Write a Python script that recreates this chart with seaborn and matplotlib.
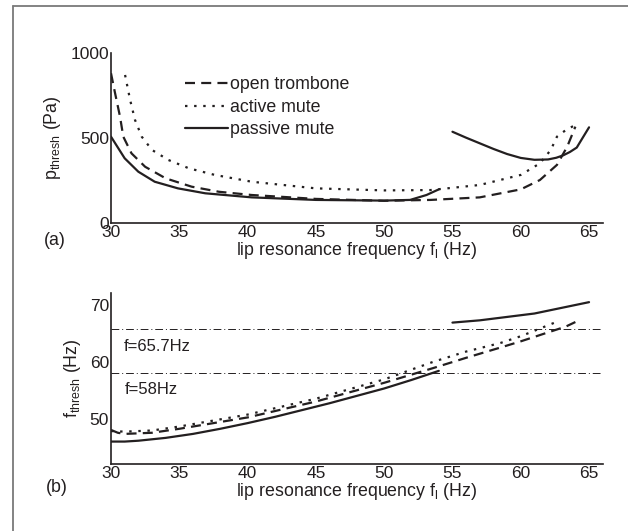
import numpy as np
import pandas as pd
import matplotlib
matplotlib.use("Agg")
import matplotlib.pyplot as plt
import seaborn as sns
from matplotlib.lines import Line2D

# ---------------- data ----------------
# (a) threshold pressure
open_p_x = [30, 30.3, 30.66, 30.9, 31.5, 32.5, 34, 35.9, 37.9, 40.3, 45, 50, 53.4, 57, 60, 61.4, 62.65, 63.4, 64]
open_p_y = [879, 761, 624, 506, 408, 329, 261, 212, 182, 163, 140, 129, 134, 149, 196, 251, 340, 447, 565]

active_p_x = [31.03, 31.4, 31.76, 32.25, 33, 34.2, 35.7, 37.6, 40.3, 45, 50, 53.4, 57, 60, 61.4, 62.2, 62.65, 63.3, 64]
active_p_y = [869, 722, 604, 506, 428, 369, 320, 281, 241, 202, 190, 192, 222, 281, 349, 428, 506, 545, 575]

passive_p_x1 = [30, 31, 32, 33.2, 34.9, 36.9, 40.3, 45, 50, 51.9, 53.1, 54]
passive_p_y1 = [506, 379, 300, 241, 202, 173, 149, 134, 130, 134, 163, 196]
passive_p_x2 = [55, 56, 57, 58, 59, 60, 61, 62, 62.6, 63.1, 63.6, 64.1, 64.5, 65]
passive_p_y2 = [535, 500, 467, 434, 404, 381, 370, 372, 382, 396, 416, 442, 495, 561]

# (b) threshold frequency
open_f_x = [30, 30.5, 31, 33, 35, 40, 45, 50, 53.6, 56, 58.5, 60, 63.3, 64]
open_f_y = [48.0, 47.5, 47.3, 47.5, 48.2, 50.2, 53.0, 56.3, 58.9, 60.7, 62.5, 63.6, 66.2, 67.0]

active_f_x = [30, 31, 33, 35, 40, 45, 50, 53.6, 56, 58.5, 60, 62.8]
active_f_y = [47.8, 47.7, 47.9, 48.6, 50.7, 53.5, 56.9, 60.0, 61.8, 63.3, 64.5, 67.2]

passive_f_x1 = [30, 31, 32, 34, 36, 38, 40, 42, 44, 46, 48, 50, 52, 54]
passive_f_y1 = [45.95, 45.95, 46.1, 46.6, 47.3, 48.2, 49.2, 50.3, 51.5, 52.7, 54.0, 55.3, 56.8, 58.4]
passive_f_x2 = [55, 57, 59, 61, 63, 65]
passive_f_y2 = [66.9, 67.3, 67.9, 68.5, 69.5, 70.5]

ref_levels = [65.7, 58]
ref_labels = ["f=65.7Hz", "f=58Hz"]

x_ticks = [30, 35, 40, 45, 50, 55, 60, 65]
p_ticks = [0, 500, 1000]
f_ticks = [50, 60, 70]

series_names = ["open trombone", "active mute", "passive mute"]

# ---------------- style ----------------
sns.set_theme(style="white")
INK = "#231f20"
plt.rcParams["font.family"] = ["Liberation Sans", "DejaVu Sans"]
plt.rcParams["mathtext.fontset"] = "custom"
plt.rcParams["mathtext.rm"] = "Liberation Sans"
plt.rcParams["mathtext.it"] = "Liberation Sans"
plt.rcParams["text.color"] = INK
plt.rcParams["axes.labelcolor"] = INK
plt.rcParams["xtick.color"] = INK
plt.rcParams["ytick.color"] = INK

FS = 12.8
W, H = 628, 531
fig = plt.figure(figsize=(W / 100, H / 100), dpi=100)

def frac(l, t, r, b):
    return [l / W, 1 - b / H, (r - l) / W, (b - t) / H]

ax1 = fig.add_axes(frac(111, 52.7, 602.7, 222.7))
ax2 = fig.add_axes(frac(111, 293.3, 602.7, 464))

DASH = (0, (4.5, 2.8))
DOT = (0, (1.1, 3.0))
LW = 1.6

def seg(x, y):
    return pd.DataFrame({"x": x, "y": y})

# panel (a)
sns.lineplot(data=seg(open_p_x, open_p_y), x="x", y="y", ax=ax1, color=INK, lw=LW, linestyle=DASH, sort=False)
sns.lineplot(data=seg(active_p_x, active_p_y), x="x", y="y", ax=ax1, color=INK, lw=LW, linestyle=DOT, sort=False)
sns.lineplot(data=seg(passive_p_x1, passive_p_y1), x="x", y="y", ax=ax1, color=INK, lw=LW, sort=False)
sns.lineplot(data=seg(passive_p_x2, passive_p_y2), x="x", y="y", ax=ax1, color=INK, lw=LW, sort=False)

# panel (b)
for lvl in ref_levels:
    ax2.axhline(lvl, color=INK, lw=0.7, linestyle=(0, (8, 3, 1, 3)), zorder=1)
sns.lineplot(data=seg(open_f_x, open_f_y), x="x", y="y", ax=ax2, color=INK, lw=LW, linestyle=DASH, sort=False)
sns.lineplot(data=seg(active_f_x, active_f_y), x="x", y="y", ax=ax2, color=INK, lw=LW, linestyle=DOT, sort=False)
sns.lineplot(data=seg(passive_f_x1, passive_f_y1), x="x", y="y", ax=ax2, color=INK, lw=LW, sort=False)
sns.lineplot(data=seg(passive_f_x2, passive_f_y2), x="x", y="y", ax=ax2, color=INK, lw=LW, sort=False)

ax2.text(30.9, ref_levels[0] - 3.0, ref_labels[0], fontsize=12, va="center", ha="left", color=INK)
ax2.text(31.0, ref_levels[1] - 2.9, ref_labels[1], fontsize=12, va="center", ha="left", color=INK)

xlabel = r"lip resonance frequency f$_{\mathrm{l}}$ (Hz)"
for ax, ylim, yt, ylab in [(ax1, (0, 1000), p_ticks, r"p$_{\mathrm{thresh}}$ (Pa)"),
                           (ax2, (42, 72.06), f_ticks, r"f$_{\mathrm{thresh}}$ (Hz)")]:
    ax.set_xlim(30, 66)
    ax.set_ylim(*ylim)
    ax.set_xticks(x_ticks)
    ax.set_yticks(yt)
    ax.set_xlabel(xlabel, fontsize=FS, labelpad=0)
    ax.set_ylabel(ylab, fontsize=FS, labelpad=5)
    ax.tick_params(direction="in", length=4, width=1, labelsize=12.5, pad=1.5)
    for s in ["top", "right"]:
        ax.spines[s].set_visible(False)
    for s in ["left", "bottom"]:
        ax.spines[s].set_color(INK)
        ax.spines[s].set_linewidth(1.2)
    ax.set_facecolor("none")

handles = [Line2D([], [], color=INK, lw=LW, linestyle=DASH),
           Line2D([], [], color=INK, lw=LW, linestyle=DOT),
           Line2D([], [], color=INK, lw=LW)]
ax1.legend(handles, series_names, frameon=False, fontsize=FS, loc="upper left",
           bbox_to_anchor=(0.1505, 0.86), handlelength=2.4, handletextpad=0.12,
           labelspacing=0.3, borderaxespad=0, borderpad=0)

fig.text(55 / W, 1 - 240 / H, "(a)", fontsize=FS, ha="center", va="center")
fig.text(57 / W, 1 - 488 / H, "(b)", fontsize=FS, ha="center", va="center")

# outer frame
GRAY = "#7a7a7a"
fig.add_artist(Line2D([13 / W, 13 / W], [0, 1 - 6 / H], transform=fig.transFigure, color=GRAY, lw=1.3))
fig.add_artist(Line2D([13 / W, 1], [1 - 6 / H, 1 - 6 / H], transform=fig.transFigure, color=GRAY, lw=1.3))

fig.savefig("out.png", dpi=100)
